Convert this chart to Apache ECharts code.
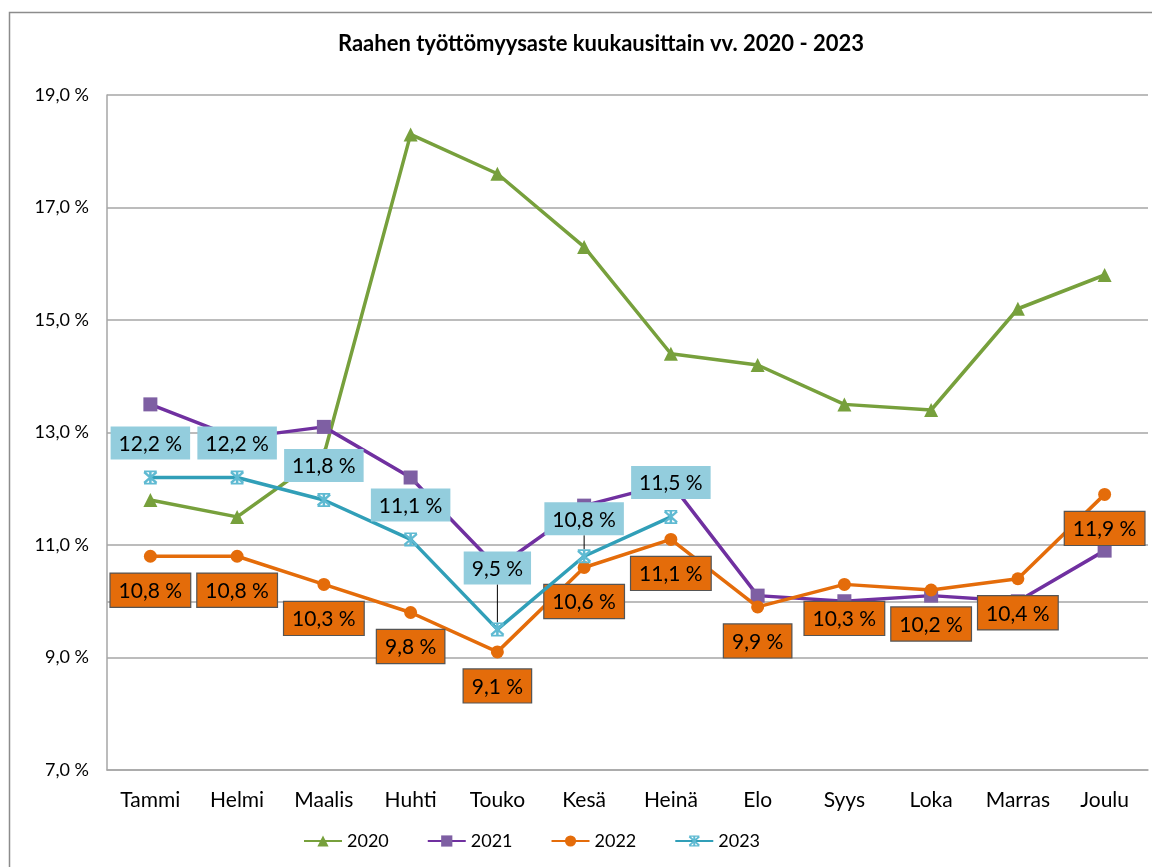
<!DOCTYPE html>
<html>
<head>
<meta charset="utf-8">
<script src="https://cdn.jsdelivr.net/npm/echarts@6/dist/echarts.min.js"></script>
<style>
  html, body { margin: 0; padding: 0; background: #fff; }
  #chart { width: 1152px; height: 867px; }
</style>
</head>
<body>
<div id="chart"></div>
<script>
// kuukaudet ja työttömyysasteet (%)
var months = ['Tammi', 'Helmi', 'Maalis', 'Huhti', 'Touko', 'Kesä', 'Heinä', 'Elo', 'Syys', 'Loka', 'Marras', 'Joulu']
var y2020 = [11.8, 11.5, 12.6, 18.3, 17.6, 16.3, 14.4, 14.2, 13.5, 13.4, 15.2, 15.8]
var y2021 = [13.5, 12.9, 13.1, 12.2, 10.6, 11.7, 12.1, 10.1, 10.0, 10.1, 10.0, 10.9]
var y2022 = [10.8, 10.8, 10.3, 9.8, 9.1, 10.6, 11.1, 9.9, 10.3, 10.2, 10.4, 11.9]
var y2023 = [12.2, 12.2, 11.8, 11.1, 9.5, 10.8, 11.5]
var yTicks = [7, 9, 11, 13, 15, 17, 19]
// 2023: siirretyt selitteet (kuukauden indeksi -> siirto ylös px)
var moved2023 = { 4: -27, 5: -3 }

var FONT = 'Lato'
var fmt = function (v) {
  return v.toFixed(1).replace('.', ',') + ' %'
}

;(function () {
  var myChart = echarts.init(document.getElementById('chart'))

  var data2023 = y2023.map(function (v, i) {
    return moved2023[i] !== undefined ? { value: v, labelLine: { show: true } } : { value: v }
  })

  var option = {
    backgroundColor: '#fff',
    textStyle: { fontFamily: FONT },
    graphic: [
      {
        type: 'rect',
        left: 7,
        top: 10,
        shape: { width: 1170, height: 880 },
        style: { fill: 'none', stroke: '#8c8c8c', lineWidth: 1.5 },
        silent: true,
        z: -10,
      },
    ],
    title: {
      text: 'Raahen työttömyysaste kuukausittain vv. 2020 - 2023',
      left: 596,
      top: 28,
      textAlign: 'center',
      textStyle: { fontFamily: FONT, fontSize: 22, fontWeight: 'bold', color: '#000' },
    },
    legend: {
      data: ['2020', '2021', '2022', '2023'],
      left: 298,
      top: 827,
      itemWidth: 38,
      itemHeight: 14,
      itemGap: 38,
      textStyle: { fontFamily: FONT, fontSize: 18, color: '#000' },
    },
    grid: { left: 107, right: 4, top: 95, bottom: 97 },
    xAxis: {
      type: 'category',
      data: months,
      boundaryGap: true,
      axisLine: { lineStyle: { color: '#a6a6a6', width: 1.5 } },
      axisTick: { show: false },
      axisLabel: { fontFamily: FONT, fontSize: 21, color: '#000', margin: 20, interval: 0 },
    },
    yAxis: {
      type: 'value',
      min: yTicks[0],
      max: yTicks[yTicks.length - 1],
      interval: 2,
      axisLine: { show: true, lineStyle: { color: '#a6a6a6', width: 1.5 } },
      axisTick: { show: false },
      splitLine: { lineStyle: { color: '#a6a6a6', width: 1.5 } },
      axisLabel: {
        fontFamily: FONT,
        fontSize: 18,
        color: '#000',
        margin: 18,
        formatter: function (v) { return fmt(v) },
      },
    },
    series: [
      {
        name: '2020',
        type: 'line',
        data: y2020,
        symbol: 'triangle',
        symbolSize: 14,
        itemStyle: { color: '#77a03c' },
        lineStyle: { color: '#77a03c', width: 3.5 },
        markLine: {
          silent: true,
          symbol: 'none',
          label: { show: false },
          lineStyle: { color: '#a6a6a6', width: 1.5, type: 'solid' },
          data: [{ yAxis: 10 }],
          z: 0,
        },
        z: 2,
      },
      {
        name: '2021',
        type: 'line',
        data: y2021,
        symbol: 'rect',
        symbolSize: 14,
        itemStyle: { color: '#7e5fa3' },
        lineStyle: { color: '#7030a0', width: 3.5 },
        z: 3,
      },
      {
        name: '2022',
        type: 'line',
        data: y2022,
        symbol: 'circle',
        symbolSize: 13,
        itemStyle: { color: '#e46c0a' },
        lineStyle: { color: '#e46c0a', width: 3.5 },
        label: {
          show: true,
          position: 'bottom',
          distance: 11,
          formatter: function (p) { return fmt(p.value) },
          fontFamily: FONT,
          fontSize: 21,
          color: '#000',
          backgroundColor: '#e46c0a',
          borderColor: '#555',
          borderWidth: 1.2,
          padding: [7, 8, 5, 8],
        },
        z: 4,
      },
      {
        name: '2023',
        type: 'line',
        data: data2023,
        symbol: 'path://M4.2,0h1.6v10h-1.6z M0.6,1.7l1.1,-1.1l7.7,7.7l-1.1,1.1z M8.3,0.6l1.1,1.1l-7.7,7.7l-1.1,-1.1z M1,0h8v1.2h-8z M1,8.8h8v1.2h-8z',
        symbolSize: 14,
        itemStyle: { color: '#5fbad2' },
        lineStyle: { color: '#319fb8', width: 3.5 },
        label: {
          show: true,
          position: 'top',
          distance: 11,
          formatter: function (p) { return fmt(p.value) },
          fontFamily: FONT,
          fontSize: 21,
          color: '#000',
          backgroundColor: '#93cddd',
          padding: [7, 8, 5, 8],
        },
        labelLine: { show: false, lineStyle: { color: '#000', width: 1 } },
        labelLayout: function (params) {
          var d = moved2023[params.dataIndex]
          return d !== undefined ? { dy: d } : {}
        },
        z: 5,
      },
    ],
  }

  myChart.setOption(option)
})()
</script>
</body>
</html>
